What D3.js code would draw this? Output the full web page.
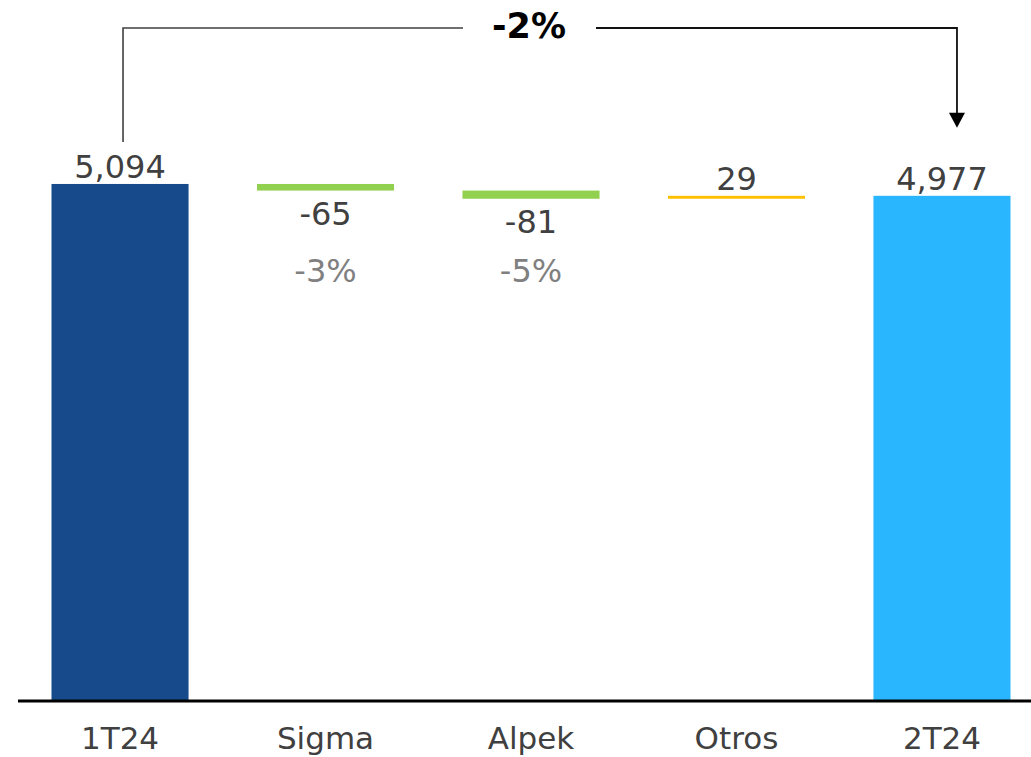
<!DOCTYPE html>
<html>
<head>
<meta charset="utf-8">
<script src="https://cdn.jsdelivr.net/npm/d3@7"></script>
<style>
  html, body { margin: 0; padding: 0; background: #fff; }
  svg { display: block; }
  text { font-family: "DejaVu Sans", Verdana, sans-serif; }
</style>
</head>
<body>
<svg id="chart" width="1031" height="757"></svg>
<script>
// ---- data ----
const categories = ["1T24", "Sigma", "Alpek", "Otros", "2T24"];
const kinds      = ["total", "delta", "delta", "delta", "total"];
const values     = [5094, -65, -81, 29, 4977];
const valueLabels = ["5,094", "-65", "-81", "29", "4,977"];
const pctLabels  = ["", "-3%", "-5%", "", ""];
const changeLabel = "-2%";

// ---- computation of waterfall segments ----
let running = 0;
const segs = categories.map((c, i) => {
  let y0, y1;
  if (kinds[i] === "total") { y0 = 0; y1 = values[i]; running = values[i]; }
  else { y0 = running; y1 = running + values[i]; running = y1; }
  return { cat: c, kind: kinds[i], v: values[i], y0, y1, label: valueLabels[i], pct: pctLabels[i], i };
});

const colorFor = d => {
  if (d.kind === "total") return d.i === 0 ? "#174A8A" : "#2AB6FE";
  return d.v < 0 ? "#92D050" : "#FFC000";
};

const svg = d3.select("#chart");
const x = d3.scaleBand().domain(categories).range([18, 1044]).paddingInner(0.333).paddingOuter(0.163);
const y = d3.scaleLinear().domain([0, 6910]).range([700, 0]);

// bars
svg.selectAll("rect.bar").data(segs).enter().append("rect")
  .attr("class", "bar")
  .attr("x", d => x(d.cat))
  .attr("width", x.bandwidth())
  .attr("y", d => y(Math.max(d.y0, d.y1)))
  .attr("height", d => Math.max(2, Math.abs(y(d.y0) - y(d.y1))))
  .attr("fill", colorFor);

// baseline
svg.append("line")
  .attr("x1", 18).attr("x2", 1031)
  .attr("y1", y(0) + 1).attr("y2", y(0) + 1)
  .attr("stroke", "#000").attr("stroke-width", 3);

// category labels
svg.selectAll("text.cat").data(segs).enter().append("text")
  .attr("class", "cat")
  .attr("x", d => x(d.cat) + x.bandwidth() / 2)
  .attr("y", 749)
  .attr("text-anchor", "middle")
  .attr("font-size", 31)
  .attr("fill", "#404040")
  .text(d => d.cat);

// value labels
svg.selectAll("text.val").data(segs).enter().append("text")
  .attr("class", "val")
  .attr("x", d => x(d.cat) + x.bandwidth() / 2)
  .attr("y", d => d.v < 0 ? y(d.y1) + 34 : y(Math.max(d.y0, d.y1)) - 6)
  .attr("text-anchor", "middle")
  .attr("font-size", 32)
  .attr("fill", "#404040")
  .text(d => d.label);

// pct labels
const pctRow = y(values[0]) + 98;
svg.selectAll("text.pct").data(segs.filter(d => d.pct)).enter().append("text")
  .attr("class", "pct")
  .attr("x", d => x(d.cat) + x.bandwidth() / 2)
  .attr("y", pctRow)
  .attr("text-anchor", "middle")
  .attr("font-size", 32)
  .attr("fill", "#808080")
  .text(d => d.pct);

// bracket with arrow
const first = segs[0], last = segs[segs.length - 1];
const lx = x(first.cat) + x.bandwidth() / 2 + 3;
const rx = x(last.cat) + x.bandwidth() / 2 + 15;
const topY = 28;
const leftBottom = y(first.y1) - 42;
const arrowTip = y(last.y1) - 68;
const midX = 529;
svg.append("path")
  .attr("d", `M${lx},${leftBottom} V${topY} H${midX - 66}`)
  .attr("fill", "none").attr("stroke", "#404040").attr("stroke-width", 1.6);
svg.append("path")
  .attr("d", `M${midX + 67},${topY} H${rx} V${arrowTip - 14}`)
  .attr("fill", "none").attr("stroke", "#111").attr("stroke-width", 1.8);
svg.append("path")
  .attr("d", `M${rx - 8},${arrowTip - 15} L${rx + 8},${arrowTip - 15} L${rx},${arrowTip} Z`)
  .attr("fill", "#000");
svg.append("text")
  .attr("x", midX).attr("y", 38)
  .attr("text-anchor", "middle")
  .attr("font-size", 35).attr("font-weight", "bold")
  .attr("fill", "#000")
  .text(changeLabel);
</script>
</body>
</html>
